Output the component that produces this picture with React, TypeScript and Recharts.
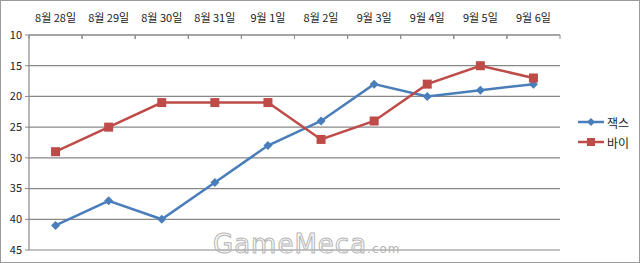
import { LineChart, Line, XAxis, YAxis, CartesianGrid } from 'recharts';

const dates = ['8월 28일', '8월 29일', '8월 30일', '8월 31일', '9월 1일', '8월 2일', '9월 3일', '9월 4일', '9월 5일', '9월 6일'];
const jaxRanks = [41, 37, 40, 34, 28, 24, 18, 20, 19, 18];
const viRanks = [29, 25, 21, 21, 21, 27, 24, 18, 15, 17];
const rankTicks = [10, 15, 20, 25, 30, 35, 40, 45];

const data = dates.map((date, i) => ({ date, jax: jaxRanks[i], vi: viRanks[i] }));

const BLUE = '#4A7EBB';
const RED = '#BE4B48';
const AXIS = '#888888';
const FONT = '"Noto Sans CJK KR", "Noto Sans", sans-serif';

const DateTick = (props: any) => {
  const { x, y, payload } = props;
  const half = payload && payload.offset ? payload.offset : 26.5;
  return (
    <g>
      <line x1={x - half} y1={y} x2={x - half} y2={y + 4} stroke={AXIS} />
      <line x1={x + half} y1={y} x2={x + half} y2={y + 4} stroke={AXIS} />
      <text x={x} y={y - 16} textAnchor="middle" dominantBaseline="middle" fontSize={11} fill="#222" fontFamily={FONT}>
        {payload.value}
      </text>
    </g>
  );
};

const Diamond = (props: any) => {
  const { cx, cy, index } = props;
  if (cx == null || cy == null) return <g key={`d${index}`} />;
  const r = 4.5;
  return <path key={`d${index}`} d={`M${cx},${cy - r}L${cx + r},${cy}L${cx},${cy + r}L${cx - r},${cy}Z`} fill={BLUE} />;
};

const Square = (props: any) => {
  const { cx, cy, index } = props;
  if (cx == null || cy == null) return <g key={`s${index}`} />;
  const r = 4.5;
  return <rect key={`s${index}`} x={cx - r} y={cy - r} width={r * 2} height={r * 2} fill={RED} />;
};

const legendItems = [
  { name: '잭스', color: BLUE, shape: 'diamond' },
  { name: '바이', color: RED, shape: 'square' },
];

const LegendBox = () => (
  <div style={{ position: 'absolute', left: 577, top: 111, fontFamily: FONT, fontSize: 12, color: '#222' }}>
    {legendItems.map((item) => (
      <div key={item.name} style={{ display: 'flex', alignItems: 'center', height: 20 }}>
        <svg width={26} height={12} style={{ marginRight: 3 }}>
          <line x1={0} y1={6} x2={26} y2={6} stroke={item.color} strokeWidth={2.5} />
          {item.shape === 'diamond' ? (
            <path d="M13,2L17,6L13,10L9,6Z" fill={item.color} />
          ) : (
            <rect x={9} y={2} width={8} height={8} fill={item.color} />
          )}
        </svg>
        <span>{item.name}</span>
      </div>
    ))}
  </div>
);

export default function App() {
  return (
    <div
      style={{
        position: 'fixed',
        left: 0,
        top: 0,
        width: 640,
        height: 263,
        border: '1px solid #9a9a9a',
        boxSizing: 'border-box',
        background: '#fff',
        overflow: 'hidden',
      }}
    >
      <LineChart width={638} height={261} data={data} margin={{ top: 0, right: 79, left: -1, bottom: 12 }}>
        <CartesianGrid vertical={false} stroke={AXIS} strokeWidth={1.2} />
        <XAxis
          dataKey="date"
          orientation="top"
          scale="band"
          height={34}
          axisLine={{ stroke: AXIS, strokeWidth: 1.2 }}
          tickLine={false}
          tickSize={0}
          tickMargin={0}
          interval={0}
          tick={<DateTick />}
        />
        <YAxis
          reversed
          domain={[10, 45]}
          ticks={rankTicks}
          interval={0}
          width={29}
          axisLine={{ stroke: AXIS, strokeWidth: 1.2 }}
          tickLine={{ stroke: AXIS }}
          tickSize={4}
          tickMargin={3}
          tick={{ fontSize: 11, fill: '#222', fontFamily: FONT }}
        />
        <Line
          dataKey="jax"
          name="잭스"
          stroke={BLUE}
          strokeWidth={2.5}
          dot={Diamond}
          activeDot={false}
          isAnimationActive={false}
        />
        <Line
          dataKey="vi"
          name="바이"
          stroke={RED}
          strokeWidth={2.5}
          dot={Square}
          activeDot={false}
          isAnimationActive={false}
        />
      </LineChart>
      <LegendBox />
      <div
        style={{
          position: 'absolute',
          left: 212,
          top: 228,
          fontFamily: '"DejaVu Sans", sans-serif',
          fontSize: 26,
          letterSpacing: 1,
          color: 'transparent',
          WebkitTextStroke: '1px #b5b5b5',
          pointerEvents: 'none',
        }}
      >
        GameMeca<span style={{ fontSize: 12, WebkitTextStroke: '0px', color: '#b5b5b5' }}>.com</span>
      </div>
    </div>
  );
}
